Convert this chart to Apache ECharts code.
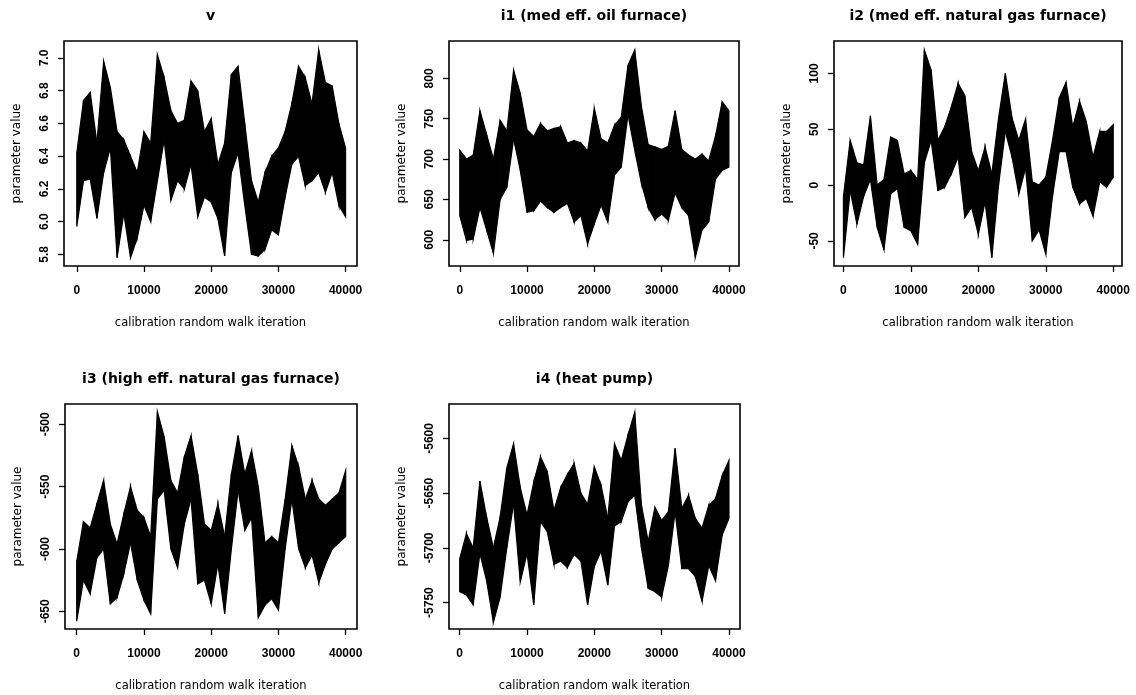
<!DOCTYPE html>
<html>
<head>
<meta charset="utf-8">
<title>calibration random walk traces</title>
<script src="https://cdn.jsdelivr.net/npm/echarts@6/dist/echarts.min.js"></script>
<style>
  html, body { margin: 0; padding: 0; background: #fff; }
  #chart { width: 1136px; height: 695px; }
</style>
</head>
<body>
<div id="chart"></div>
<script>
// iteration at which each high/low pair was read (range the walk covers around it)
const binCenters = [0, 1000, 2000, 3000, 4000, 5000, 6000, 7000, 8000, 9000,
  10000, 11000, 12000, 13000, 14000, 15000, 16000, 17000, 18000, 19000,
  20000, 21000, 22000, 23000, 24000, 25000, 26000, 27000, 28000, 29000,
  30000, 31000, 32000, 33000, 34000, 35000, 36000, 37000, 38000, 39000, 40000]
const iterTicks = [0, 10000, 20000, 30000, 40000]

// v
const vHi = [6.42, 6.74, 6.79, 6.48, 6.98, 6.82, 6.55, 6.50, 6.40, 6.30,
  6.55, 6.48, 7.02, 6.88, 6.68, 6.60, 6.62, 6.86, 6.80, 6.55,
  6.63, 6.35, 6.48, 6.90, 6.95, 6.60, 6.25, 6.12, 6.30, 6.40,
  6.45, 6.55, 6.72, 6.95, 6.88, 6.72, 7.05, 6.85, 6.83, 6.60, 6.45]
const vLo = [5.97, 6.25, 6.26, 6.02, 6.30, 6.45, 5.78, 6.05, 5.78, 5.90,
  6.10, 6.00, 6.25, 6.50, 6.13, 6.25, 6.20, 6.35, 6.03, 6.15,
  6.12, 6.02, 5.79, 6.30, 6.42, 6.10, 5.80, 5.79, 5.83, 5.95,
  5.92, 6.15, 6.35, 6.40, 6.22, 6.25, 6.30, 6.18, 6.30, 6.10, 6.03]
const vTicks = [5.8, 6.0, 6.2, 6.4, 6.6, 6.8, 7.0]

// i1 (med eff. oil furnace)
const i1Hi = [711, 700, 705, 760, 730, 700, 748, 735, 810, 781,
  736, 728, 744, 735, 738, 740, 720, 723, 720, 710,
  763, 725, 720, 742, 752, 816, 835, 765, 718, 715,
  712, 716, 760, 712, 705, 700, 706, 698, 728, 771, 760]
const i1Lo = [630, 599, 601, 640, 612, 583, 650, 665, 725, 686,
  634, 636, 648, 640, 634, 640, 645, 622, 630, 595,
  620, 643, 622, 680, 690, 755, 711, 670, 640, 625,
  632, 624, 658, 640, 630, 578, 612, 622, 675, 686, 690]
const i1Ticks = [600, 650, 700, 750, 800]

// i2 (med eff. natural gas furnace)
const i2Hi = [-10, 40, 20, 18, 62, 0, 5, 43, 40, 10,
  13, 5, 121, 103, 40, 52, 70, 91, 80, 30,
  13, 34, 10, 60, 100, 60, 40, 59, 3, 0,
  7, 40, 78, 92, 52, 75, 57, 25, 48, 48, 54]
const i2Lo = [-65, -5, -35, -10, 5, -38, -58, -8, -3, -38,
  -41, -53, 20, 40, -5, -2, 10, 25, -29, -20,
  -44, -15, -65, 0, 48, 25, -8, 15, -50, -40,
  -62, -10, 30, 30, -2, -17, -12, -28, 3, -2, 7]
const i2Ticks = [-50, 0, 50, 100]

// i3 (high eff. natural gas furnace)
const i3Hi = [-610, -578, -583, -564, -545, -580, -596, -572, -550, -569,
  -575, -590, -490, -510, -545, -555, -526, -509, -540, -580,
  -585, -564, -590, -540, -509, -540, -521, -550, -595, -590,
  -595, -560, -517, -534, -560, -545, -560, -565, -560, -555, -537]
const i3Lo = [-658, -625, -636, -607, -600, -644, -639, -620, -595, -625,
  -641, -652, -560, -553, -600, -615, -580, -560, -628, -625,
  -644, -612, -652, -600, -553, -585, -575, -655, -645, -640,
  -649, -600, -560, -600, -615, -605, -627, -612, -600, -595, -590]
const i3Ticks = [-650, -600, -550, -500]

// i4 (heat pump)
const i4Hi = [-5710, -5687, -5700, -5639, -5672, -5700, -5672, -5627, -5605, -5645,
  -5670, -5640, -5617, -5630, -5666, -5645, -5633, -5623, -5650, -5660,
  -5626, -5643, -5673, -5605, -5620, -5597, -5576, -5661, -5694, -5663,
  -5675, -5667, -5609, -5664, -5652, -5673, -5682, -5661, -5655, -5634, -5620]
const i4Lo = [-5740, -5743, -5752, -5705, -5730, -5768, -5745, -5700, -5660, -5731,
  -5705, -5752, -5676, -5685, -5715, -5712, -5718, -5706, -5712, -5752,
  -5717, -5703, -5734, -5680, -5676, -5658, -5652, -5700, -5737, -5740,
  -5745, -5716, -5667, -5719, -5719, -5726, -5749, -5716, -5730, -5688, -5673]
const i4Ticks = [-5750, -5700, -5650, -5600]

const panels = [
  { title: 'v', hi: vHi, lo: vLo, ticks: vTicks, digits: 1,
    box: [64, 41, 293, 225], x: [-1900, 41700], y: [5.729, 7.104] },
  { title: 'i1 (med eff. oil furnace)', hi: i1Hi, lo: i1Lo, ticks: i1Ticks, digits: 0,
    box: [449, 41, 290, 225], x: [-1600, 41500], y: [567.5, 846.3] },
  { title: 'i2 (med eff. natural gas furnace)', hi: i2Hi, lo: i2Lo, ticks: i2Ticks, digits: 0,
    box: [834, 41, 288, 225], x: [-1400, 41300], y: [-72.5, 129] },
  { title: 'i3 (high eff. natural gas furnace)', hi: i3Hi, lo: i3Lo, ticks: i3Ticks, digits: 0,
    box: [65, 404, 292, 225], x: [-1740, 41680], y: [-664.2, -483.7] },
  { title: 'i4 (heat pump)', hi: i4Hi, lo: i4Lo, ticks: i4Ticks, digits: 0,
    box: [449, 404, 291, 225], x: [-1590, 41640], y: [-5774.1, -5568.6] }
]

const labelFont = { fontFamily: 'Liberation Sans', fontSize: 12, fontWeight: 'bold', color: '#000' }
const tickStyle = { color: '#000', width: 1.3 }

// one band segment between two neighbouring readings
const renderBand = (params, api) => {
  const a = api.coord([api.value(0), api.value(1)])
  const b = api.coord([api.value(0), api.value(2)])
  const c = api.coord([api.value(3), api.value(5)])
  const d = api.coord([api.value(3), api.value(4)])
  return {
    type: 'polygon',
    shape: { points: [a, b, c, d] },
    style: { fill: '#000', stroke: '#000', lineWidth: 1.2 }
  }
}

const grids = [], xAxes = [], yAxes = [], series = [], titles = []

panels.forEach((p, idx) => {
  const [left, top, width, height] = p.box
  grids.push({
    left: left, top: top, width: width, height: height,
    show: true, borderColor: '#000', borderWidth: 1.6, backgroundColor: '#fff'
  })
  titles.push({
    text: p.title,
    left: left + width / 2,
    top: top - 32,
    padding: 0,
    textAlign: 'center',
    textStyle: { fontFamily: 'DejaVu Sans', fontSize: 14, fontWeight: 'bold', color: '#000' }
  })
  xAxes.push({
    gridIndex: idx, type: 'value', min: p.x[0], max: p.x[1],
    splitLine: { show: false },
    axisLine: { show: false, onZero: false },
    axisTick: { show: true, inside: false, length: 6, customValues: iterTicks, lineStyle: tickStyle },
    axisLabel: { ...labelFont, margin: 19, customValues: iterTicks, formatter: v => String(v) },
    name: 'calibration random walk iteration',
    nameLocation: 'middle',
    nameGap: 51,
    nameTextStyle: { fontFamily: 'DejaVu Sans', fontSize: 11.5, color: '#000' }
  })
  yAxes.push({
    gridIndex: idx, type: 'value', min: p.y[0], max: p.y[1],
    splitLine: { show: false },
    axisLine: { show: false, onZero: false },
    axisTick: { show: true, inside: false, length: 6, customValues: p.ticks, lineStyle: tickStyle },
    axisLabel: { ...labelFont, margin: 13, rotate: 90, customValues: p.ticks,
      formatter: v => v.toFixed(p.digits) },
    name: 'parameter value',
    nameLocation: 'middle',
    nameRotate: 90,
    nameGap: 41,
    nameTextStyle: { fontFamily: 'DejaVu Sans', fontSize: 12, color: '#000' }
  })
  // trace: band between each reading's low and high, joined to the next one
  const segs = []
  for (let i = 0; i < binCenters.length - 1; i++) {
    segs.push([binCenters[i], p.lo[i], p.hi[i],
      binCenters[i + 1], p.lo[i + 1], p.hi[i + 1]])
  }
  series.push({
    type: 'custom', xAxisIndex: idx, yAxisIndex: idx,
    renderItem: renderBand,
    encode: { x: [0, 3], y: [1, 2, 4, 5] },
    data: segs,
    clip: true,
    silent: true
  })
})

const chart = echarts.init(document.getElementById('chart'), null, { renderer: 'canvas' })
chart.setOption({
  animation: false,
  backgroundColor: '#fff',
  title: titles,
  grid: grids,
  xAxis: xAxes,
  yAxis: yAxes,
  series: series
})
window.addEventListener('resize', () => chart.resize())
</script>
</body>
</html>
